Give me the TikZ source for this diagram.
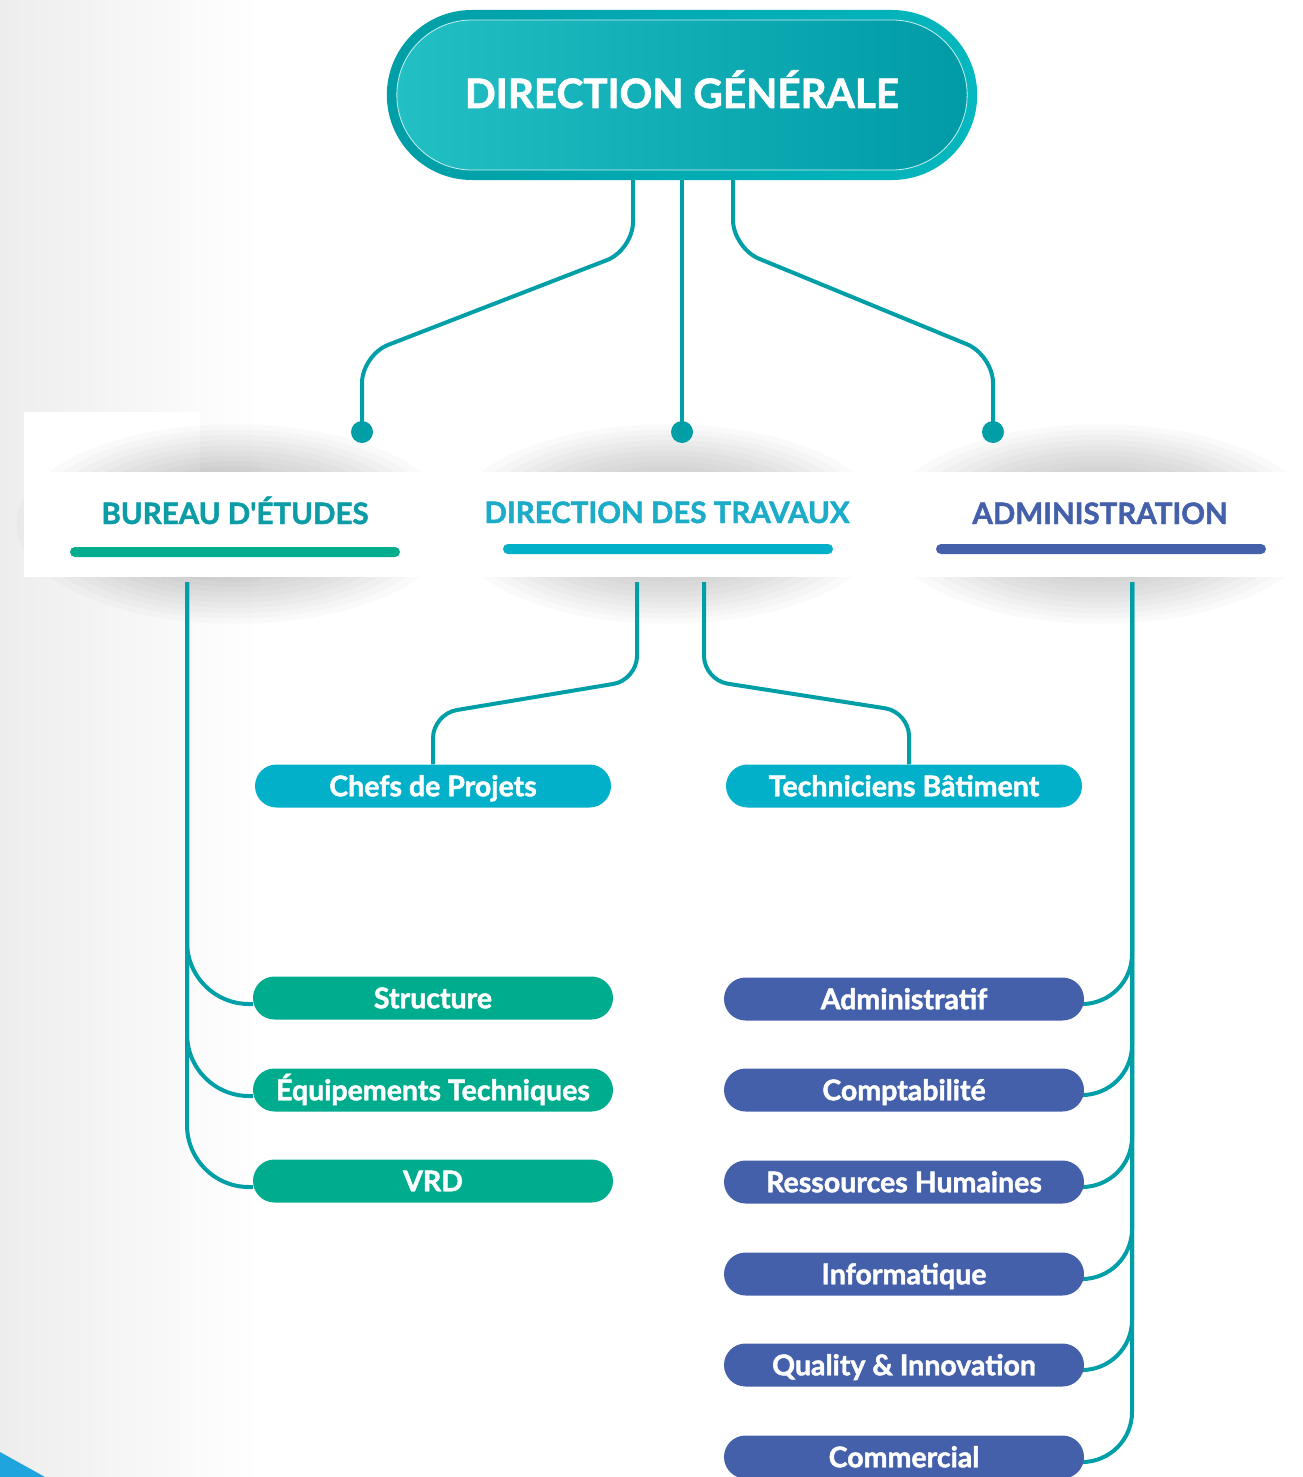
\documentclass[tikz,border=0pt]{standalone}
\usepackage{fontspec}
\setmainfont{Lato}[BoldFeatures={FakeBold=1.6}]
\usetikzlibrary{shapes.misc}

\definecolor{wire}{RGB}{0,159,168}
\definecolor{begreen}{RGB}{0,172,142}
\definecolor{betext}{RGB}{12,156,166}
\definecolor{dtcyan}{RGB}{2,176,202}
\definecolor{dttext}{RGB}{28,172,200}
\definecolor{admblue}{RGB}{69,96,171}
\definecolor{dgleft}{RGB}{34,191,196}
\definecolor{dgright}{RGB}{0,155,166}
\definecolor{ringleft}{RGB}{0,158,166}
\definecolor{ringright}{RGB}{5,183,190}
\definecolor{skyblue}{RGB}{32,164,221}

\newcommand\pillfont{\fontsize{28.5}{30}\selectfont\bfseries}
\newcommand\headfont{\fontsize{29.5}{32}\selectfont\bfseries}
\newcommand\dgfont{\fontsize{40.5}{44}\selectfont\bfseries}

\pgfdeclarelayer{back}
\pgfdeclarelayer{wires}
\pgfsetlayers{back,wires,main}

\begin{document}
\begin{tikzpicture}[x=1pt,y=-1pt,
    link/.style={draw=wire, line width=4pt},
    dot/.style={circle, fill=wire, minimum size=22pt, inner sep=0pt},
    pill/.style={rounded rectangle, minimum width=360pt, minimum height=43pt,
      inner sep=0pt, text=white, font=\pillfont, text height=20.5pt, text depth=0pt},
    bar/.style={rounded rectangle, minimum width=330pt, minimum height=10pt, inner sep=0pt},
    headtext/.style={font=\headfont, inner sep=0pt, anchor=base}]
  \useasboundingbox (0,0) rectangle (1303,1477);

  % background, header band and its shadows
  \begin{pgfonlayer}{back}
    \shade[left color=black!7, right color=white] (0,0) rectangle (260,1477);
    \fill[white] (24,412) rectangle (200,577);
    \foreach \x in {235,667,1100}
      \foreach \r in {0.30,0.35,...,1.0}
        \fill[black, opacity=.018] (\x,524) ellipse ({230*\r} and {105*\r});
    \fill[white] (24,472) rectangle (1303,577);
    \fill[skyblue] (0,1452) -- (45,1477) -- (0,1477) -- cycle;
  \end{pgfonlayer}

  % top box
  \node[rounded rectangle, minimum width=597pt, minimum height=170pt,
    left color=ringleft, right color=ringright] (dgring) at (682,95) {};
  \node[rounded rectangle, minimum width=577pt, minimum height=150pt,
    left color=dgleft, right color=dgright, draw=white!75!dgleft, line width=.8pt] (dg) at (682,95) {};
  \node[font=\dgfont, text=white, inner sep=0pt, anchor=base] (dgtxt) at (682,108) {DIRECTION GÉNÉRALE};

  \node[dot] (dotBE) at (362,432) {};
  \node[dot] (dotDT) at (682,432) {};
  \node[dot] (dotADM) at (993,432) {};

  % headers
  \node[headtext, text=betext] (be) at (235,524) {BUREAU D\textquotesingle ÉTUDES};
  \node[headtext, text=dttext] (dt) at (667,523) {DIRECTION DES TRAVAUX};
  \node[headtext, text=admblue] (adm) at (1100,524) {ADMINISTRATION};
  \node[bar, fill=begreen] (bebar) at (235,552) {};
  \node[bar, fill=dtcyan] (dtbar) at (668,549) {};
  \node[bar, fill=admblue] (admbar) at (1101,549) {};

  \coordinate (beTop) at (187,582);
  \coordinate (dtLeft) at (637,582);
  \coordinate (dtRight) at (704,582);
  \coordinate (admTop) at (1132,582);

  % teams
  \node[pill, fill=dtcyan, minimum width=356pt] (cp) at (433,786) {Chefs de Projets};
  \node[pill, fill=dtcyan, minimum width=356pt] (tb) at (904,786) {Techniciens Bâtiment};

  \node[pill, fill=begreen] (str) at (433,998) {Structure};
  \node[pill, fill=begreen] (eq) at (433,1090) {Équipements Techniques};
  \node[pill, fill=begreen] (vrd) at (433,1181) {VRD};

  \foreach \name/\y/\txt in {adm1/999/Administratif, adm2/1090/Comptabilité,
      adm3/1182/Ressources Humaines, adm4/1274/Informatique,
      adm5/1365/Quality \& Innovation, adm6/1457/Commercial}
    \node[pill, fill=admblue] (\name) at (904,\y) {\txt};

  % connectors
  \begin{pgfonlayer}{wires}
    \draw[link, rounded corners=28] ([xshift=-49pt]dgring.south) -- (633,250) -- (362,355) -- (dotBE.center);
    \draw[link] (dgring.south) -- (dotDT.center);
    \draw[link, rounded corners=28] ([xshift=51pt]dgring.south) -- (733,248) -- (993,355) -- (dotADM.center);

    \draw[link, rounded corners=24] (dtLeft) -- (637,680) -- (433,714) -- (cp.north);
    \draw[link, rounded corners=24] (dtRight) -- (704,680) -- (909,712) -- ([xshift=5pt]tb.north);

    \foreach \name in {str,eq,vrd}
      \draw[link, rounded corners=62] (beTop) |- ([yshift=-6pt]\name.west);
    \foreach \name in {adm1,adm2,adm3,adm4,adm5,adm6}
      \draw[link, rounded corners=50] (admTop) |- ([yshift=-5pt]\name.east);
  \end{pgfonlayer}
\end{tikzpicture}
\end{document}
